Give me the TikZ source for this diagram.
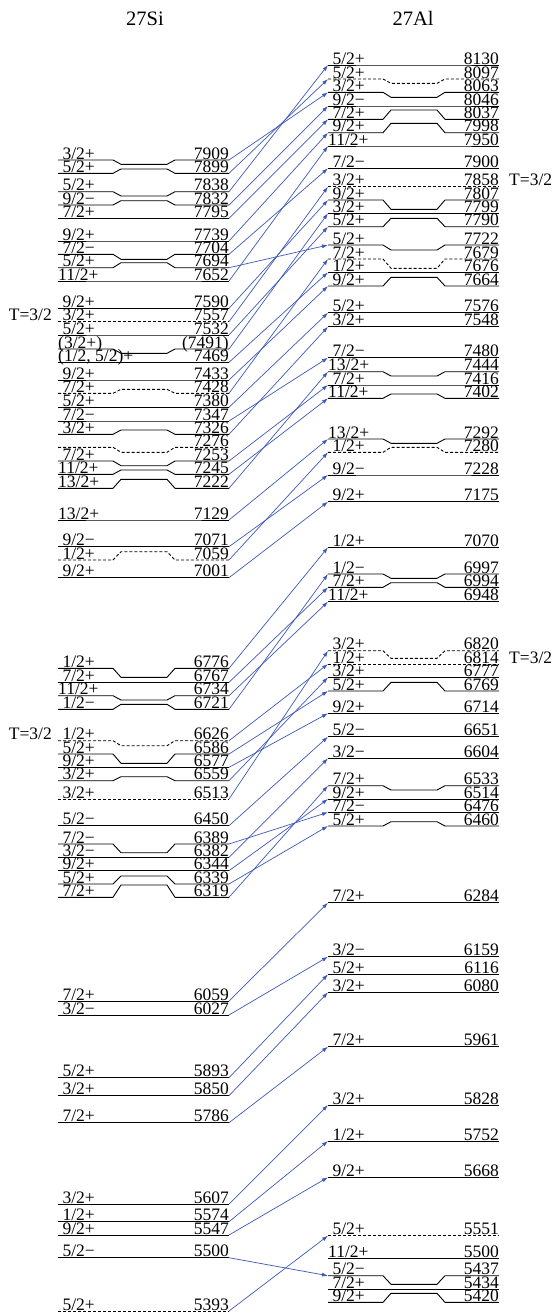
\documentclass[tikz,border=0pt]{standalone}
\usepackage{fontspec}
\setmainfont{Liberation Serif}
\usepackage{xcolor}
\usepackage{tikz}
\usetikzlibrary{arrows.meta,positioning,calc}
\definecolor{analogblue}{RGB}{62,88,184}
\newcommand{\labelfont}{\fontsize{17.5}{20}\selectfont}
\newcommand{\titlefont}{\fontsize{20.5}{23}\selectfont}
\tikzset{
  levelline/.style={line width=0.9pt},
  dashedlevel/.style={dash pattern=on 3pt off 2pt},
  spinlabel/.style={anchor=base west,inner sep=0pt,font=\labelfont,yshift=0.8pt},
  enlabel/.style={anchor=base east,inner sep=0pt,font=\labelfont,yshift=0.8pt},
  isolabel/.style={inner sep=0pt,font=\labelfont,yshift=0.8pt},
  nucname/.style={anchor=base,inner sep=0pt,font=\titlefont},
  analog/.style={draw=analogblue,line width=0.7pt,-{Latex[length=6pt,width=4pt]}}
}
% #1 line style, #2 left end, #3 name, #4 label height, #5 true height, #6 spin, #7 energy
\newcommand{\nuclevel}[7]{%
  \draw[levelline,#1] (#2,#4) -- (#2+55,#4) -- (#2+63,#5) -- (#2+109,#5)
    -- (#2+117,#4) -- (#2+171,#4);
  \coordinate (#3-w) at (#2,#4);
  \coordinate (#3-e) at (#2+171,#4);
  \node[spinlabel] (#3-spin) at (#3-w) {#6};
  \node[enlabel] (#3-en) at (#3-e) {#7};
}
\newcommand{\silevel}[6][]{\nuclevel{#1}{58}{#2}{#3}{#4}{#5}{#6}}
\newcommand{\allevel}[6][]{\nuclevel{#1}{328}{#2}{#3}{#4}{#5}{#6}}

\begin{document}
\begin{tikzpicture}[x=1pt,y=-1pt]
\useasboundingbox (0,0) rectangle (553,1315);
\node[nucname] (si-title) at (145,25) {27Si};
\node[nucname] (al-title) at (413,25) {27Al};

% 27Si
\silevel{si7909}{160}{164.3}{~3/2+}{7909}
\silevel{si7899}{173.3}{169}{~5/2+}{7899}
\silevel{si7838}{191.7}{196}{~5/2+}{7838}
\silevel{si7832}{205}{200.7}{~9/2−}{7832}
\silevel{si7795}{218.3}{218.3}{~7/2+}{7795}
\silevel{si7739}{241}{241}{~9/2+}{7739}
\silevel{si7704}{254.3}{259.3}{~7/2−}{7704}
\silevel{si7694}{267.7}{262.7}{~5/2+}{7694}
\silevel{si7652}{281}{281}{11/2+}{7652}
\silevel{si7590}{308.3}{308.3}{~9/2+}{7590}
\silevel[dashedlevel]{si7557}{321.7}{321.7}{~3/2+}{7557}
\silevel{si7532}{335}{335}{~5/2+}{7532}
\silevel{si7491}{349}{353.3}{(3/2+)}{(7491)}
\silevel{si7469}{362.3}{362.3}{(1/2, 5/2)+}{7469}
\silevel{si7433}{380}{380}{~9/2+}{7433}
\silevel[dashedlevel]{si7428}{393.3}{389.3}{~7/2+}{7428}
\silevel{si7380}{407.3}{407.3}{~5/2+}{7380}
\silevel{si7347}{421}{421}{~7/2−}{7347}
\silevel{si7326}{434.3}{430}{~3/2+}{7326}
\silevel[dashedlevel]{si7276}{447.3}{452.3}{}{7276}
\silevel{si7253}{461}{465.7}{~7/2+}{7253}
\silevel{si7245}{474.3}{470}{11/2+}{7245}
\silevel{si7222}{488.3}{479.3}{13/2+}{7222}
\silevel{si7129}{520}{520}{13/2+}{7129}
\silevel{si7071}{546.7}{546.7}{~9/2−}{7071}
\silevel[dashedlevel]{si7059}{560}{551.7}{~1/2+}{7059}
\silevel{si7001}{577.7}{577.7}{~9/2+}{7001}
\silevel{si6776}{668.3}{677.3}{~1/2+}{6776}
\silevel{si6767}{682.3}{682.3}{~7/2+}{6767}
\silevel{si6734}{695.7}{700}{11/2+}{6734}
\silevel{si6721}{709.3}{704.3}{~1/2−}{6721}
\silevel[dashedlevel]{si6626}{740.7}{745.7}{~1/2+}{6626}
\silevel{si6586}{754}{763.3}{~5/2+}{6586}
\silevel{si6577}{767.3}{767.3}{~9/2+}{6577}
\silevel{si6559}{780.7}{776.7}{~3/2+}{6559}
\silevel[dashedlevel]{si6513}{799}{799}{~3/2+}{6513}
\silevel{si6450}{825.7}{825.7}{~5/2−}{6450}
\silevel{si6389}{844}{852.7}{~7/2−}{6389}
\silevel{si6382}{857.3}{857.3}{~3/2−}{6382}
\silevel{si6344}{870.7}{870.7}{~9/2+}{6344}
\silevel{si6339}{884}{876}{~5/2+}{6339}
\silevel{si6319}{897.3}{885}{~7/2+}{6319}
\silevel{si6059}{1001}{1001}{~7/2+}{6059}
\silevel{si6027}{1015}{1015}{~3/2−}{6027}
\silevel{si5893}{1077.7}{1077.7}{~5/2+}{5893}
\silevel{si5850}{1095.7}{1095.7}{~3/2+}{5850}
\silevel{si5786}{1122.7}{1122.7}{~7/2+}{5786}
\silevel{si5607}{1204}{1204}{~3/2+}{5607}
\silevel{si5574}{1221.7}{1221.7}{~1/2+}{5574}
\silevel{si5547}{1235}{1235}{~9/2+}{5547}
\silevel{si5500}{1257.7}{1257.7}{~5/2−}{5500}
\silevel[dashedlevel]{si5393}{1311}{1311}{~5/2+}{5393}

% 27Al
\allevel{al8130}{65}{65}{~5/2+}{8130}
\allevel[dashedlevel]{al8097}{79}{83.3}{~5/2+}{8097}
\allevel{al8063}{92.3}{97.3}{~3/2+}{8063}
\allevel{al8046}{106}{106}{~9/2−}{8046}
\allevel{al8037}{119.3}{110}{~7/2+}{8037}
\allevel{al7998}{132.7}{123.3}{~9/2+}{7998}
\allevel{al7950}{146}{146}{11/2+}{7950}
\allevel{al7900}{168.3}{168.3}{~7/2−}{7900}
\allevel[dashedlevel]{al7858}{186.7}{186.7}{~3/2+}{7858}
\allevel{al7807}{200}{209.3}{~9/2+}{7807}
\allevel{al7799}{213.3}{213.3}{~3/2+}{7799}
\allevel{al7790}{226.7}{218.3}{~5/2+}{7790}
\allevel{al7722}{245}{250}{~5/2+}{7722}
\allevel[dashedlevel]{al7679}{259}{268.3}{~7/2+}{7679}
\allevel{al7676}{272.3}{272.3}{~1/2+}{7676}
\allevel{al7664}{286}{277.3}{~9/2+}{7664}
\allevel{al7576}{312.7}{312.7}{~5/2+}{7576}
\allevel{al7548}{326.7}{326.7}{~3/2+}{7548}
\allevel{al7480}{357.7}{357.7}{~7/2−}{7480}
\allevel{al7444}{371.7}{376}{13/2+}{7444}
\allevel{al7416}{385}{385}{~7/2+}{7416}
\allevel{al7402}{398.3}{394}{11/2+}{7402}
\allevel{al7292}{439}{443.3}{13/2+}{7292}
\allevel[dashedlevel]{al7280}{452.3}{447.3}{~1/2+}{7280}
\allevel{al7228}{475}{475}{~9/2−}{7228}
\allevel{al7175}{501.7}{501.7}{~9/2+}{7175}
\allevel{al7070}{547.3}{547.3}{~1/2+}{7070}
\allevel{al6997}{574}{578.3}{~1/2−}{6997}
\allevel{al6994}{587.3}{582.7}{~7/2+}{6994}
\allevel{al6948}{601.7}{601.7}{11/2+}{6948}
\allevel[dashedlevel]{al6820}{650.7}{658.3}{~3/2+}{6820}
\allevel[dashedlevel]{al6814}{664}{664}{~1/2+}{6814}
\allevel{al6777}{677.3}{677.3}{~3/2+}{6777}
\allevel{al6769}{691}{682.3}{~5/2+}{6769}
\allevel{al6714}{713.3}{713.3}{~9/2+}{6714}
\allevel{al6651}{736.7}{736.7}{~5/2−}{6651}
\allevel{al6604}{758.3}{758.3}{~3/2−}{6604}
\allevel{al6533}{785.7}{790}{~7/2+}{6533}
\allevel{al6514}{799}{799}{~9/2+}{6514}
\allevel{al6476}{812.3}{812.3}{~7/2−}{6476}
\allevel{al6460}{826}{821.7}{~5/2+}{6460}
\allevel{al6284}{902.7}{902.7}{~7/2+}{6284}
\allevel{al6159}{956.7}{956.7}{~3/2−}{6159}
\allevel{al6116}{974.3}{974.3}{~5/2+}{6116}
\allevel{al6080}{992.3}{992.3}{~3/2+}{6080}
\allevel{al5961}{1046.7}{1046.7}{~7/2+}{5961}
\allevel{al5828}{1105}{1105}{~3/2+}{5828}
\allevel{al5752}{1141}{1141}{~1/2+}{5752}
\allevel{al5668}{1177.3}{1177.3}{~9/2+}{5668}
\allevel[dashedlevel]{al5551}{1235.7}{1235.7}{~5/2+}{5551}
\allevel{al5500}{1258.3}{1258.3}{11/2+}{5500}
\allevel{al5437}{1275.7}{1284.3}{~5/2−}{5437}
\allevel{al5434}{1289.3}{1289.3}{~7/2+}{5434}
\allevel{al5420}{1302.3}{1293.3}{~9/2+}{5420}

% isospin labels
\node[isolabel,anchor=base east,xshift=-6pt] (iso-si7557) at (si7557-w) {T=3/2};
\node[isolabel,anchor=base east,xshift=-6pt] (iso-si6626) at (si6626-w) {T=3/2};
\node[isolabel,anchor=base west,xshift=10pt] (iso-al7858) at (al7858-e) {T=3/2};
\node[isolabel,anchor=base west,xshift=10pt] (iso-al6814) at (al6814-e) {T=3/2};

% analog states
\foreach \s/\a in {7909/8063,7899/8097,7838/8130,7832/8046,7795/8037,7739/7998,
  7704/7900,7694/7722,7652/7950,7590/7807,7557/7858,7532/7790,7491/7799,
  7469/7676,7433/7664,7428/7679,7380/7576,7347/7480,7326/7548,7253/7416,
  7245/7402,7222/7444,7129/7292,7071/7228,7059/7280,7001/7175,
  6776/7070,6767/6994,6734/6948,6721/6997,6626/6814,6586/6769,6577/6714,
  6559/6777,6513/6820,6450/6651,6389/6476,6382/6604,6344/6514,6339/6460,
  6319/6533,6059/6284,6027/6159,5893/6116,5850/6080,5786/5961,5607/5828,
  5574/5752,5547/5668,5500/5437,5393/5551}
  \draw[analog] (si\s-e) -- (al\a-w);
\end{tikzpicture}
\end{document}
